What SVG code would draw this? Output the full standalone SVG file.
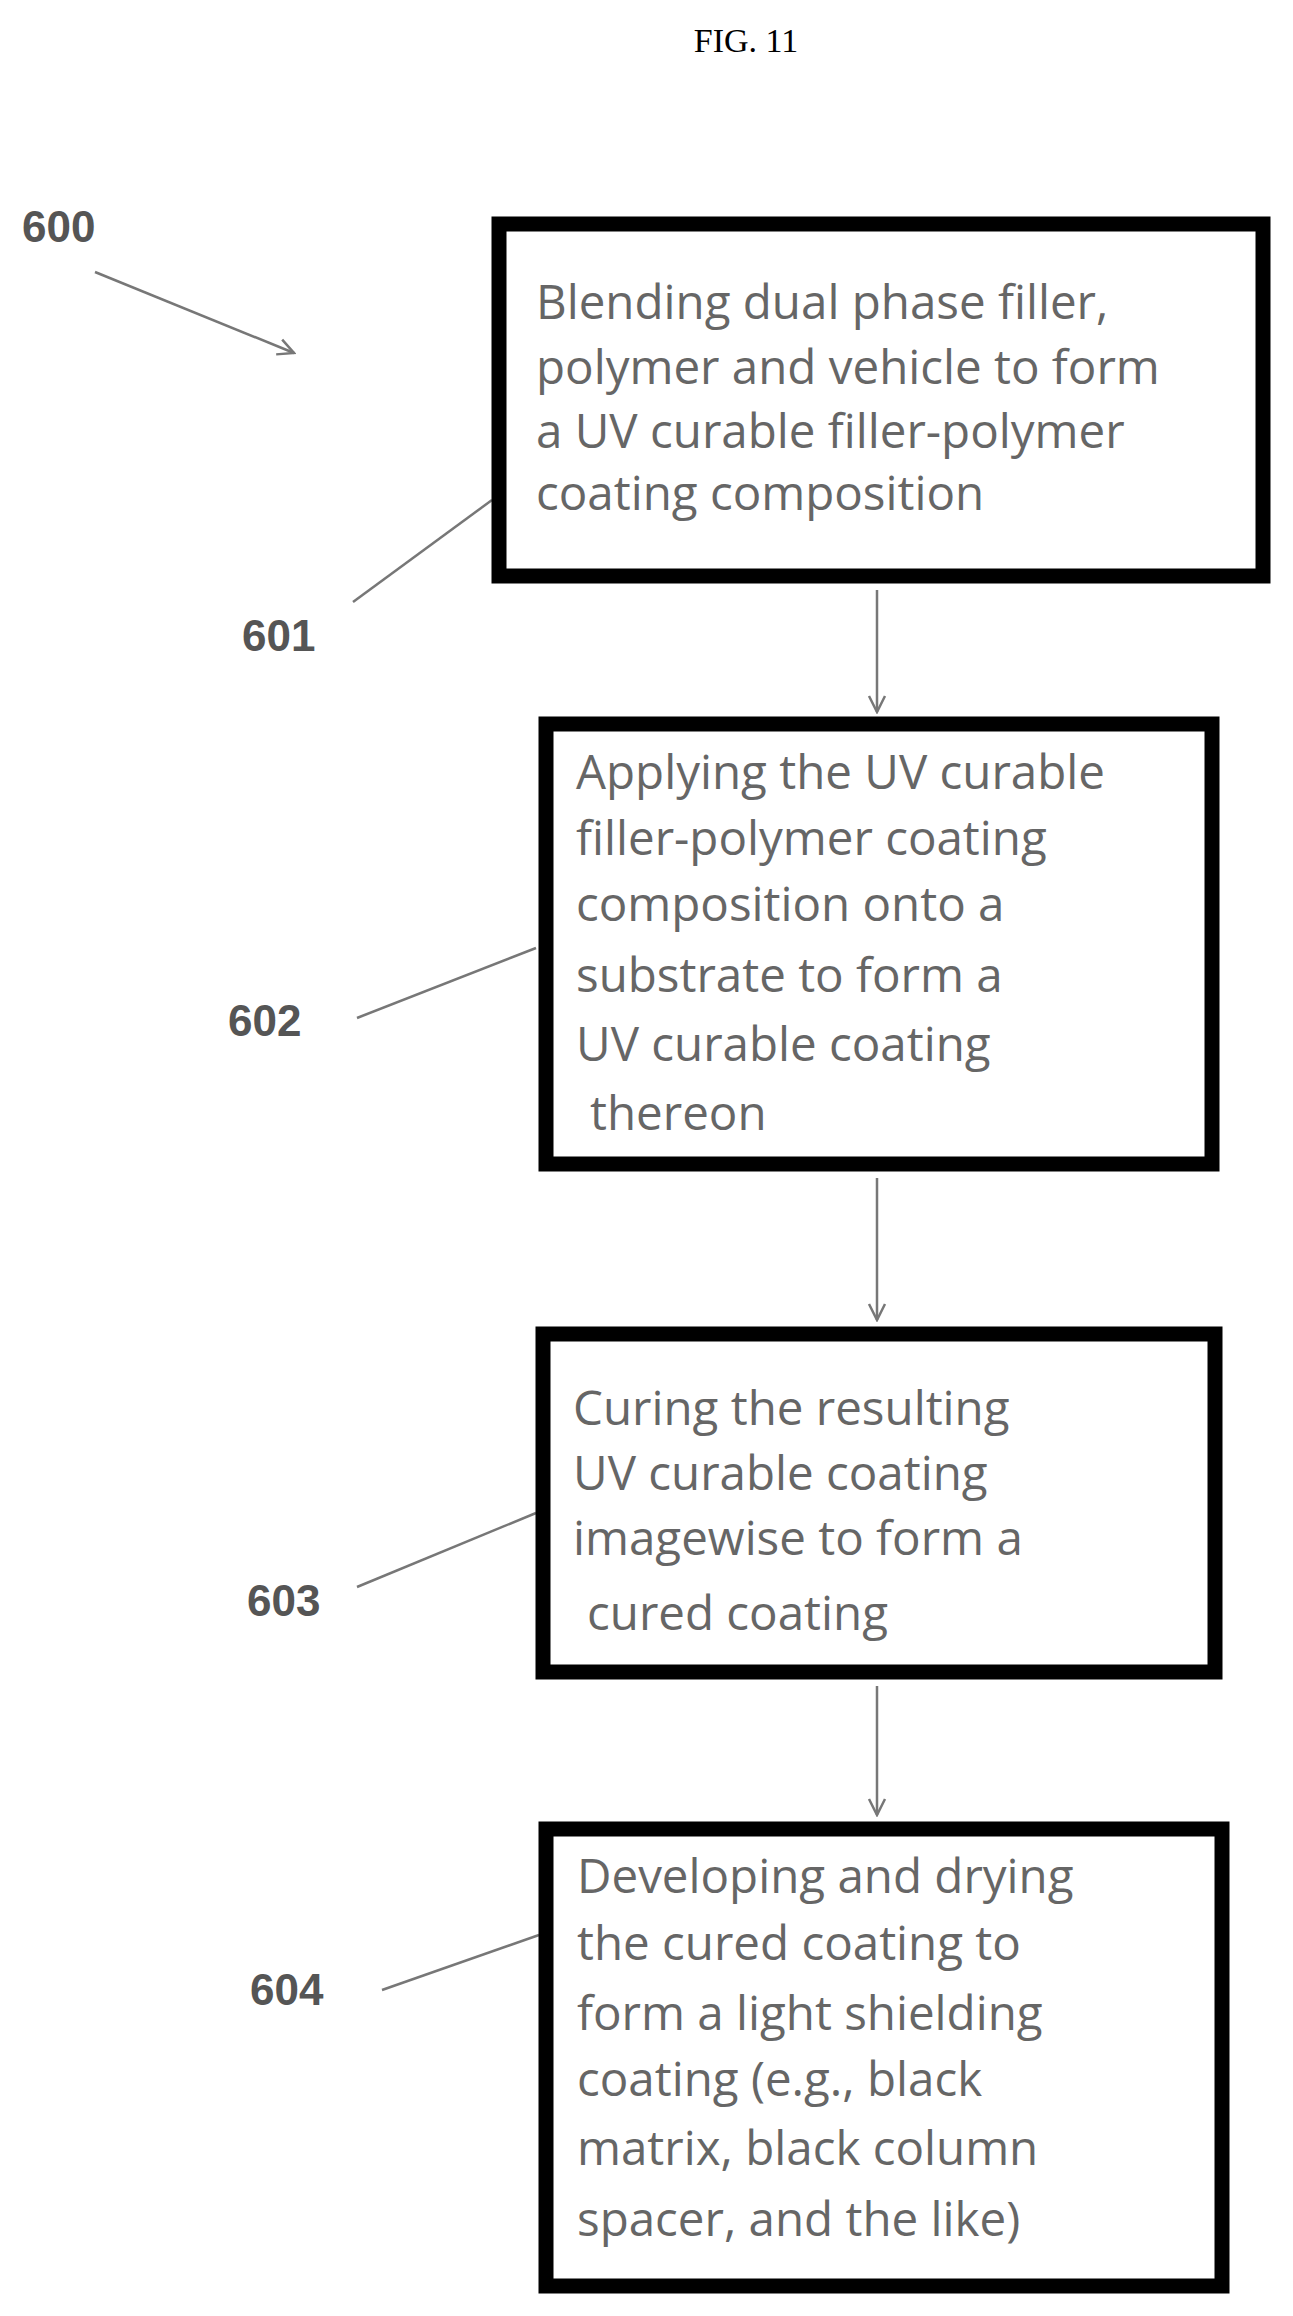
<svg xmlns="http://www.w3.org/2000/svg" width="1293" height="2316" viewBox="0 0 1293 2316">
<style>
.box{fill:#fff;stroke:#000;stroke-width:15}
.t{font-family:"Open Sans",sans-serif;font-size:47.5px;fill:#666}
.lbl{font-family:"Liberation Sans",sans-serif;font-weight:bold;font-size:44px;fill:#555}
.ln{stroke:#777;stroke-width:2.5;fill:none}
</style>
<defs><marker id="v" viewBox="0 0 20 20" refX="18" refY="10" markerWidth="20" markerHeight="20" markerUnits="userSpaceOnUse" orient="auto"><path d="M2,2 L18,10 L2,18" fill="none" stroke="#777" stroke-width="2.5"/></marker></defs>
<rect width="1293" height="2316" fill="#fff"/>
<text x="746" y="52" text-anchor="middle" font-family="Liberation Serif,serif" font-size="34">FIG. 11</text>
<g id="connectors">
<path class="ln" d="M95,272 L294,353" marker-end="url(#v)"/>
<path class="ln" d="M353,602 L492,500"/>
<path class="ln" d="M877,590 L877,712" marker-end="url(#v)"/>
<path class="ln" d="M357,1018 L536,948"/>
<path class="ln" d="M877,1178 L877,1320" marker-end="url(#v)"/>
<path class="ln" d="M357,1587 L536,1513"/>
<path class="ln" d="M877,1686 L877,1815" marker-end="url(#v)"/>
<path class="ln" d="M382,1990 L539,1935"/>
</g>
<g id="n600"><text class="lbl" x="22" y="242">600</text></g>
<g id="n601">
<rect class="box" x="499" y="224" width="764" height="352"/>
<text class="t" x="536" y="319">Blending dual phase filler,</text>
<text class="t" x="536" y="384">polymer and vehicle to form</text>
<text class="t" x="536" y="448">a UV curable filler-polymer</text>
<text class="t" x="536" y="510">coating composition</text>
<text class="lbl" x="242" y="651">601</text>
</g>
<g id="n602">
<rect class="box" x="546" y="724" width="666" height="440"/>
<text class="t" x="576" y="789">Applying the UV curable</text>
<text class="t" x="576" y="855">filler-polymer coating</text>
<text class="t" x="576" y="921">composition onto a</text>
<text class="t" x="576" y="992">substrate to form a</text>
<text class="t" x="576" y="1061">UV curable coating</text>
<text class="t" x="590" y="1130">thereon</text>
<text class="lbl" x="228" y="1036">602</text>
</g>
<g id="n603">
<rect class="box" x="543" y="1334" width="672" height="338"/>
<text class="t" x="573" y="1425">Curing the resulting</text>
<text class="t" x="573" y="1490">UV curable coating</text>
<text class="t" x="573" y="1555">imagewise to form a</text>
<text class="t" x="587" y="1630">cured coating</text>
<text class="lbl" x="247" y="1616">603</text>
</g>
<g id="n604">
<rect class="box" x="546" y="1829" width="676" height="457"/>
<text class="t" x="577" y="1893">Developing and drying</text>
<text class="t" x="577" y="1960">the cured coating to</text>
<text class="t" x="577" y="2030">form a light shielding</text>
<text class="t" x="577" y="2096">coating (e.g., black</text>
<text class="t" x="577" y="2165">matrix, black column</text>
<text class="t" x="577" y="2236">spacer, and the like)</text>
<text class="lbl" x="250" y="2005">604</text>
</g>
</svg>
